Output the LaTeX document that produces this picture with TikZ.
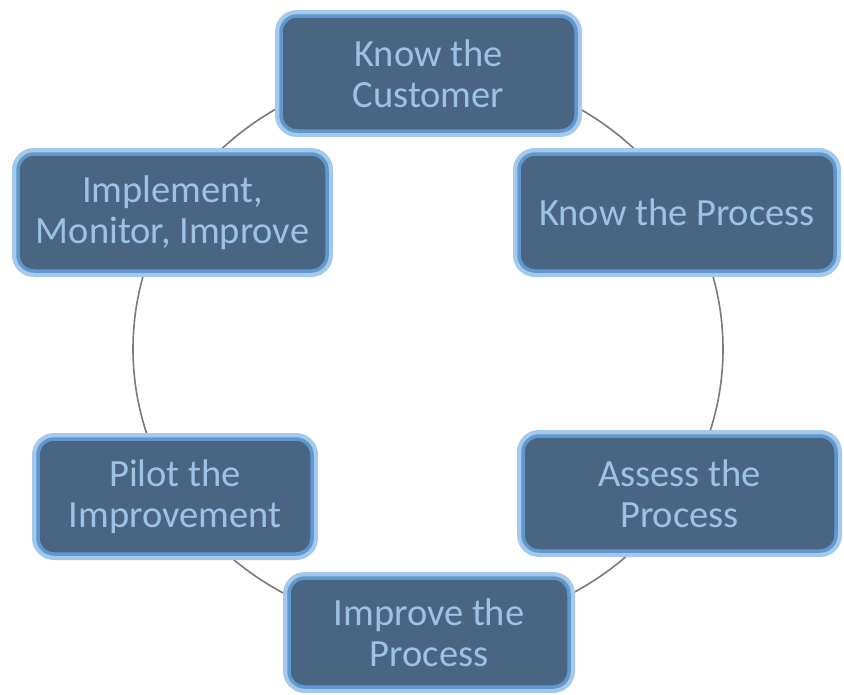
\documentclass[tikz,border=0pt]{standalone}
\usepackage{fontspec}
\setmainfont{Carlito}
\definecolor{boxfill}{HTML}{4A6582}
\definecolor{boxedge}{HTML}{5F98CF}
\definecolor{glow}{HTML}{A4C9EA}
\definecolor{txt}{HTML}{9CC3E5}
\definecolor{ringcol}{HTML}{7A7A7A}
\begin{document}
\begin{tikzpicture}[x=1pt,y=1pt,
  stage/.style={rectangle, rounded corners=16pt, fill=boxfill, draw=boxedge,
    line width=3.5pt, preaction={draw=glow, line width=12pt},
    text=txt, font=\fontsize{38.5}{41}\selectfont, align=center, inner sep=0pt},
  ringline/.style={draw=ringcol, line width=1.6pt}]
\fill[white] (0,0) rectangle (844,-694);
\useasboundingbox (0,0) rectangle (844,-694);
\coordinate (ring) at (428,-349);
\draw[ringline] (ring) ellipse [x radius=295, y radius=280];
\node[stage, minimum width=295, minimum height=115] (cust) at (428.5,-73.5) {Know the\\Customer};
\node[stage, minimum width=316, minimum height=117] (kproc) at (677,-212.5) {Know the Process};
\node[stage, minimum width=313, minimum height=115] (assess) at (679.5,-493.5) {Assess the\\Process};
\node[stage, minimum width=280, minimum height=109] (improve) at (429,-632.5) {Improve the\\Process};
\node[stage, minimum width=274, minimum height=115] (pilot) at (175,-496.5) {Pilot the\\Improvement};
\node[stage, minimum width=309, minimum height=117] (impl) at (172.5,-212.5) {Implement,\\Monitor, Improve};
\end{tikzpicture}
\end{document}
